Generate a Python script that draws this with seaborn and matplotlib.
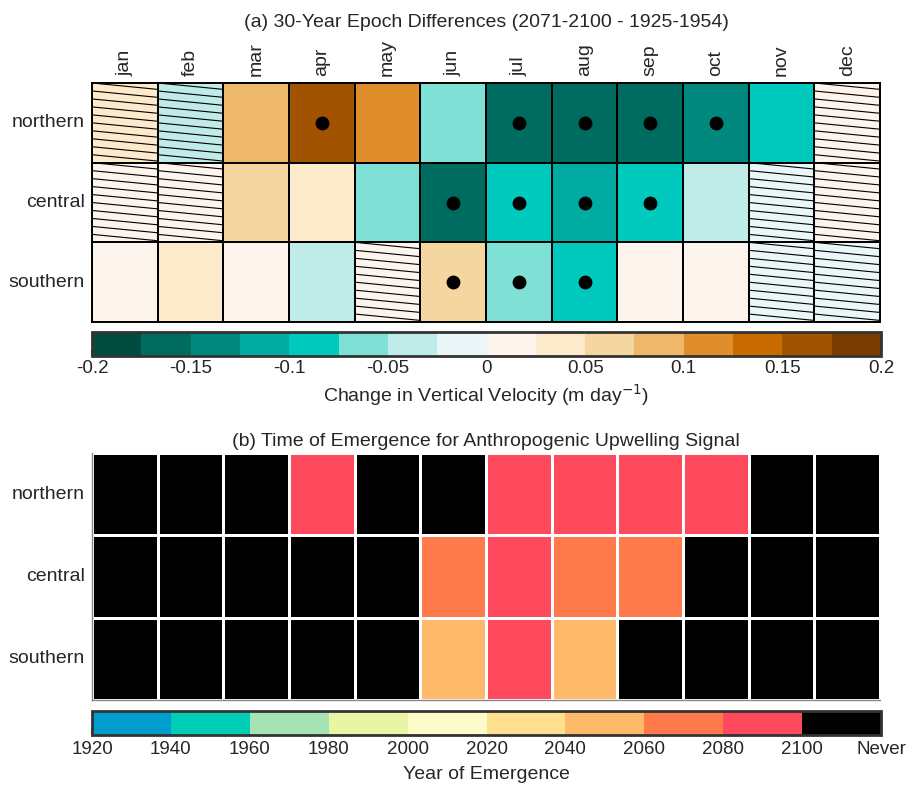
import numpy as np
import pandas as pd
import seaborn as sns
import matplotlib.pyplot as plt
from matplotlib.colors import ListedColormap
from matplotlib.patches import Rectangle

sns.set_style('white')
plt.rcParams['font.family'] = ['Liberation Sans', 'DejaVu Sans']
plt.rcParams['mathtext.fontset'] = 'custom'
plt.rcParams['mathtext.rm'] = 'Liberation Sans'
plt.rcParams['mathtext.default'] = 'regular'
txt = '#262626'
fs = 14
fs_tick = 13.5

months = ['jan', 'feb', 'mar', 'apr', 'may', 'jun', 'jul', 'aug', 'sep', 'oct', 'nov', 'dec']
regions = ['northern', 'central', 'southern']

# (a) epoch difference in vertical velocity, m/day
north_dw = [0.035, -0.035, 0.085, 0.16, 0.11, -0.06, -0.16, -0.16, -0.16, -0.14, -0.09, 0.01]
central_dw = [0.01, 0.01, 0.06, 0.035, -0.06, -0.16, -0.09, -0.11, -0.09, -0.035, -0.01, 0.01]
south_dw = [0.01, 0.035, 0.01, -0.035, 0.01, 0.06, -0.06, -0.09, 0.01, 0.01, -0.01, -0.01]

# hatched = not robust, dot = significant
north_hatch = [1, 1, 0, 0, 0, 0, 0, 0, 0, 0, 0, 1]
central_hatch = [1, 1, 0, 0, 0, 0, 0, 0, 0, 0, 1, 1]
south_hatch = [0, 0, 0, 0, 1, 0, 0, 0, 0, 0, 1, 1]
north_dot = [0, 0, 0, 1, 0, 0, 1, 1, 1, 1, 0, 0]
central_dot = [0, 0, 0, 0, 0, 1, 1, 1, 1, 0, 0, 0]
south_dot = [0, 0, 0, 0, 0, 1, 1, 1, 0, 0, 0, 0]

# (b) year of emergence, 2110 = never
NEVER = 2110
north_toe = [NEVER, NEVER, NEVER, 2088, NEVER, NEVER, 2086, 2090, 2088, 2092, NEVER, NEVER]
central_toe = [NEVER, NEVER, NEVER, NEVER, NEVER, 2068, 2085, 2072, 2070, NEVER, NEVER, NEVER]
south_toe = [NEVER, NEVER, NEVER, NEVER, NEVER, 2050, 2090, 2048, NEVER, NEVER, NEVER, NEVER]

dw_ticks = [-0.2, -0.15, -0.1, -0.05, 0, 0.05, 0.1, 0.15, 0.2]
dw_ticklabels = ['-0.2', '-0.15', '-0.1', '-0.05', '0', '0.05', '0.1', '0.15', '0.2']
toe_ticks = [1920, 1940, 1960, 1980, 2000, 2020, 2040, 2060, 2080, 2100, 2120]
toe_ticklabels = ['1920', '1940', '1960', '1980', '2000', '2020', '2040', '2060', '2080', '2100', 'Never']

dw_colors = ['#004d40', '#006b5f', '#00877e', '#00aba2', '#00c9be', '#7fe0d6', '#bfece8', '#eaf6f7',
             '#fdf4ee', '#fdeacb', '#f5d6a1', '#eeb86c', '#e08e2b', '#c86c00', '#a15300', '#7a3c00']
toe_colors = ['#009dce', '#00cdb5', '#a5e3b5', '#e8f5a5', '#fdfcc8', '#fee08f', '#feb96a', '#fe7a4a',
              '#fe4a5c', '#000000']

df_dw = pd.DataFrame([north_dw, central_dw, south_dw], index=regions, columns=months)
df_toe = pd.DataFrame([north_toe, central_toe, south_toe], index=regions, columns=months)
hatch = np.array([north_hatch, central_hatch, south_hatch])
dots = np.array([north_dot, central_dot, south_dot])

W, H = 915, 787
fig = plt.figure(figsize=(W / 100, H / 100), dpi=100)
ax1 = fig.add_axes([92 / W, 1 - 322 / H, 788 / W, 239 / H])
cax1 = fig.add_axes([92 / W, 1 - 356 / H, 789 / W, 24 / H])
ax2 = fig.add_axes([92 / W, 1 - 700 / H, 788 / W, 247 / H])
cax2 = fig.add_axes([92 / W, 1 - 735 / H, 789 / W, 24 / H])

# ---- (a)
sns.heatmap(df_dw, ax=ax1, cmap=ListedColormap(dw_colors), vmin=-0.2, vmax=0.2,
            linewidths=1.2, linecolor='black', cbar_ax=cax1,
            cbar_kws={'orientation': 'horizontal', 'ticks': dw_ticks})
for sp in ax1.spines.values():
    sp.set_visible(True)
    sp.set_color('black')
    sp.set_linewidth(1.4)
ax1.xaxis.tick_top()
ax1.set_xticklabels(months, rotation=90, fontsize=fs, color=txt)
ax1.set_yticklabels(regions, rotation=0, fontsize=fs, color=txt)
ax1.tick_params(length=0, pad=5)
ax1.set_xlabel('')
ax1.set_ylabel('')
ax1.set_title('(a) 30-Year Epoch Differences (2071-2100 - 1925-1954)', fontsize=fs, color=txt, pad=40)

# shallow diagonal hatching
for i, j in zip(*np.nonzero(hatch)):
    clip = Rectangle((j, i), 1, 1, transform=ax1.transData)
    for k in range(-1, 11):
        ln, = ax1.plot([j, j + 1], [i + k * 0.1, i + k * 0.1 + 0.08], color='black', lw=0.8)
        ln.set_clip_path(clip)
yy, xx = np.nonzero(dots)
ax1.scatter(xx + 0.5, yy + 0.5, s=80, color='black', zorder=5)

cb1 = ax1.collections[0].colorbar
cb1.set_ticks(dw_ticks, labels=dw_ticklabels)
cb1.ax.tick_params(direction='in', length=4, width=1.5, color='#333333', labelsize=fs_tick, labelcolor=txt, pad=3)
cb1.outline.set_edgecolor('#333333')
cb1.outline.set_linewidth(2)
cb1.set_label('Change in Vertical Velocity (m day$^{\\mathsf{-1}}$)', fontsize=fs, color=txt, labelpad=4)

# ---- (b)
sns.heatmap(df_toe, ax=ax2, cmap=ListedColormap(toe_colors), vmin=1920, vmax=2120,
            linewidths=2, linecolor='white', cbar_ax=cax2,
            cbar_kws={'orientation': 'horizontal'})
for side in ['left', 'bottom']:
    ax2.spines[side].set_visible(True)
    ax2.spines[side].set_color('#888888')
    ax2.spines[side].set_linewidth(1)
ax2.set_xticks([])
ax2.set_yticklabels(regions, rotation=0, fontsize=fs, color=txt)
ax2.tick_params(length=0, pad=5)
ax2.set_xlabel('')
ax2.set_ylabel('')
ax2.set_title('(b) Time of Emergence for Anthropogenic Upwelling Signal', fontsize=fs, color=txt, pad=5)

cb2 = ax2.collections[0].colorbar
cb2.set_ticks(toe_ticks, labels=toe_ticklabels)
cb2.ax.tick_params(direction='in', length=4, width=1.5, color='#333333', labelsize=fs_tick, labelcolor=txt, pad=4)
cb2.outline.set_edgecolor('#333333')
cb2.outline.set_linewidth(2)
cb2.set_label('Year of Emergence', fontsize=fs, color=txt, labelpad=6)

fig.savefig('out.png', dpi=100)
